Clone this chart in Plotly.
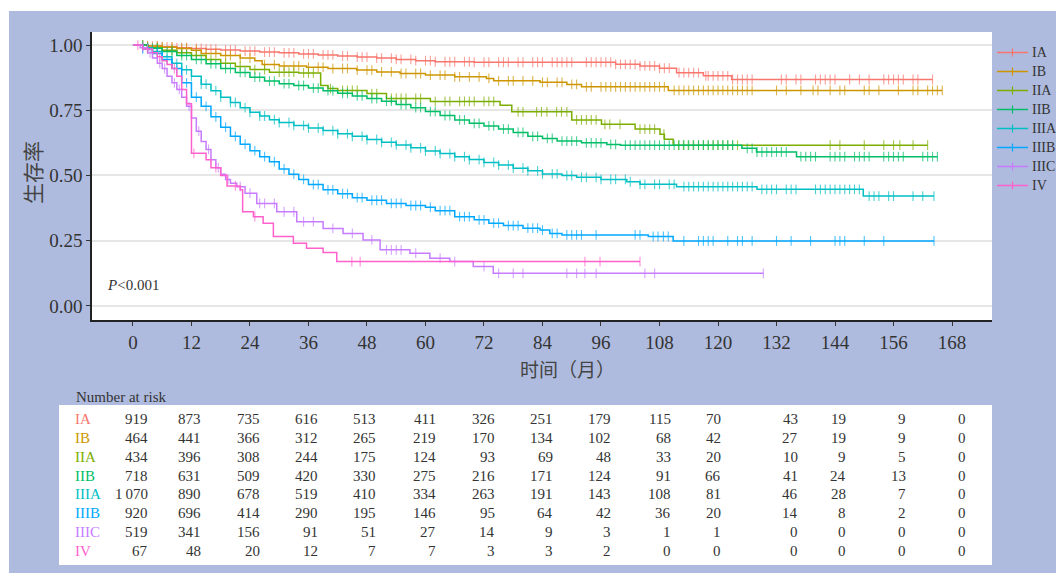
import numpy as np
import plotly.graph_objects as go

# ---------------- data ----------------
months = [0, 12, 24, 36, 48, 60, 72, 84, 96, 108, 120, 132, 144, 156, 168]
stages = ["IA", "IB", "IIA", "IIB", "IIIA", "IIIB", "IIIC", "IV"]
colors = ["#F8766D", "#CD9600", "#7CAE00", "#00BE67", "#00BFC4", "#00A9FF", "#C77CFF", "#FF61CC"]

# step times (months) and survival after each step; last follow-up time
t_IA = [0, 3, 6, 9, 12, 15, 18, 22, 26, 30, 34, 38, 42, 46, 50, 54, 58, 62, 70, 99, 104, 108, 111.5, 117, 122.8]
s_IA = [1.0, 0.996, 0.993, 0.990, 0.987, 0.984, 0.981, 0.977, 0.973, 0.970, 0.966, 0.962, 0.958, 0.954, 0.950, 0.945, 0.940, 0.936, 0.934, 0.926, 0.920, 0.911, 0.894, 0.882, 0.868]
end_IA = 164
c_IA = [2, 3, 4, 5, 6, 7, 8, 9, 10, 11, 13, 14, 15, 16, 17, 19, 20, 21, 23, 24, 25, 27, 28, 29, 31, 32, 33, 35, 36, 37,
        39, 40, 41, 43, 44, 46, 47, 48, 50, 51, 53, 54, 55, 57, 58, 60, 61, 62, 64, 65, 66, 68, 69, 70, 72, 73, 75, 76,
        77, 79, 80, 82, 83, 84, 86, 87, 88, 89, 90, 93, 94, 95, 96, 97, 98, 99, 100, 101, 102, 103, 104, 105, 106, 107,
        108, 109, 110, 112, 113, 114, 115, 116, 117.5, 118, 119, 120, 121, 122, 123, 124, 125, 126, 127, 133, 134, 136,
        137, 140, 141, 142, 143, 144, 147, 149, 151, 154, 155, 156, 157, 158, 160, 161, 164]

t_IB = [0, 3, 6, 9, 12, 14, 18, 22, 25, 26.5, 30, 35.6, 40, 45.9, 50, 54.8, 60, 66, 72.5, 74, 83.5, 89, 92, 109.8]
s_IB = [1.0, 0.996, 0.992, 0.987, 0.980, 0.968, 0.960, 0.950, 0.940, 0.925, 0.920, 0.915, 0.910, 0.904, 0.897, 0.891, 0.885, 0.878, 0.872, 0.863, 0.857, 0.849, 0.840, 0.826]
end_IB = 166
c_IB = [2, 3, 5, 6, 8, 10, 11, 13, 15, 17, 19, 20, 22, 24, 27, 29, 31, 33, 34, 36, 38, 39, 41, 43, 44, 46, 48, 49, 51,
        53, 55, 56, 58, 59, 61, 63, 64, 66, 67, 69, 71, 73, 75, 77, 78, 80, 82, 84, 85, 87, 88, 90, 91, 93, 94, 96, 97,
        98, 99, 100, 101, 102, 103, 104, 105, 106, 107, 108, 109, 111, 112, 113, 114, 115, 116, 117, 118, 119, 120, 121,
        122, 123, 124, 125, 126, 127, 132, 134, 137, 139.5, 140.5, 143, 145, 146, 150, 151, 153, 157, 160, 161, 163,
        164, 165, 166]

t_IIA = [0, 3, 6, 9, 12, 15, 18, 21, 24, 28, 34, 38.5, 40, 42, 48, 52, 61, 75.3, 77.7, 90, 96.1, 103, 108.1, 109, 110.8]
s_IIA = [1.0, 0.990, 0.980, 0.970, 0.960, 0.945, 0.930, 0.918, 0.906, 0.896, 0.893, 0.845, 0.833, 0.826, 0.814, 0.795, 0.784, 0.769, 0.744, 0.713, 0.696, 0.678, 0.658, 0.639, 0.616]
end_IIA = 163
c_IIA = [3, 5, 8, 10, 13, 16, 19, 22, 25, 27, 30, 31, 32, 33, 35, 36, 37, 40.5, 43, 44, 45, 46, 49, 50, 53, 54, 55, 56,
         58, 59, 62, 64, 65, 67, 68, 69, 70, 72, 73, 74, 79, 80, 82.8, 83.8, 84.9, 86.9, 87.9, 89, 91, 92, 93, 94, 95,
         96.8, 97.8, 99.9, 104, 105, 106, 107, 108.9, 111.9, 112.9, 113.9, 114.9, 116, 117, 118, 119, 120, 121, 122, 123,
         124, 143, 145, 150, 154, 156, 157.3, 160, 163]

t_IIB = [0, 3, 6, 9, 12, 15, 18, 21, 24, 27, 30, 33, 36, 39, 42, 45, 48, 51, 54, 57, 60, 63, 66, 69, 72, 75, 78, 81, 84, 87, 92, 97.2, 100, 124.9, 127.9, 136.1]
s_IIB = [1.0, 0.988, 0.975, 0.960, 0.945, 0.928, 0.910, 0.895, 0.877, 0.862, 0.852, 0.845, 0.835, 0.825, 0.815, 0.805, 0.795, 0.785, 0.772, 0.760, 0.745, 0.730, 0.713, 0.700, 0.690, 0.678, 0.665, 0.650, 0.642, 0.632, 0.625, 0.619, 0.616, 0.604, 0.590, 0.572]
end_IIB = 165
c_IIB = [2, 4, 5, 7, 8, 10, 11, 13, 14, 16, 17, 19, 20, 22, 23, 25, 26, 28, 29, 31, 32, 34, 35, 37, 38, 40, 41, 43, 44,
         46, 47, 49, 50, 52, 53, 55, 56, 58, 59, 61, 62, 64, 65, 67, 68, 70, 71, 73, 74, 76, 77, 79, 80, 82, 83, 85, 86,
         88, 89, 90, 91, 93, 94, 95, 96, 98, 99, 101, 102, 103, 104, 105, 106, 107, 108, 109, 110, 111, 112, 113, 114,
         115, 116, 117, 118, 119, 120, 121, 122, 123, 126, 127, 128, 129, 130, 131, 132, 133, 134, 137, 138, 139, 140,
         143, 144, 145, 146, 148, 149, 150, 151, 154, 155, 156, 157, 158, 162, 163, 164, 165]

t_IIIA = [0, 2, 4, 6, 8, 10, 12, 14, 16, 18, 20, 22, 24, 26, 28, 30, 33, 36, 39, 42, 45, 48, 51, 54, 57, 60, 63, 66, 69, 72, 75, 78, 81, 84, 88, 91, 96, 101.3, 104, 111.5, 128, 149.8]
s_IIIA = [1.0, 0.990, 0.975, 0.955, 0.930, 0.905, 0.880, 0.850, 0.825, 0.800, 0.780, 0.760, 0.742, 0.728, 0.714, 0.703, 0.692, 0.682, 0.672, 0.660, 0.650, 0.638, 0.627, 0.617, 0.606, 0.594, 0.584, 0.572, 0.561, 0.550, 0.540, 0.528, 0.518, 0.506, 0.500, 0.493, 0.485, 0.476, 0.466, 0.457, 0.447, 0.421]
end_IIIA = 164.3
c_IIIA = [2, 3, 5, 6, 8, 9, 11, 12, 14, 15, 17, 18, 20, 21, 23, 24, 26, 27, 29, 30, 32, 33, 35, 36, 38, 39, 41, 42, 44,
          45, 47, 48, 50, 51, 53, 54, 56, 57, 59, 60, 62, 63, 65, 66, 68, 69, 71, 72, 74, 75, 77, 78, 80, 81, 83, 84,
          86, 87, 89, 90, 92, 93, 95, 96, 98, 99, 101, 102, 104, 105, 107, 108, 110, 111, 113, 114, 115, 116, 117, 118,
          119, 120, 121, 122, 123, 124, 125, 126, 127, 129, 130, 131, 132, 134, 135, 136, 140, 141, 142, 143, 144, 145,
          146, 147, 148, 149, 151, 152, 153, 155, 156, 160, 162, 164.3]

t_IIIB = [0, 2, 4, 6, 8, 10, 12, 14, 16, 18, 20, 22, 24, 26, 28, 30, 32, 34, 36, 39, 42, 45, 48, 52, 56, 60, 62, 66, 70, 73, 76, 80, 83.5, 85.5, 88, 105.7, 110.8]
s_IIIB = [1.0, 0.985, 0.968, 0.945, 0.910, 0.855, 0.800, 0.765, 0.725, 0.685, 0.650, 0.620, 0.595, 0.572, 0.553, 0.525, 0.505, 0.485, 0.465, 0.445, 0.430, 0.415, 0.405, 0.393, 0.385, 0.378, 0.365, 0.342, 0.330, 0.317, 0.308, 0.298, 0.291, 0.278, 0.272, 0.266, 0.249]
end_IIIB = 164.3
c_IIIB = [2, 3, 5, 7, 9, 11, 13, 15, 17, 19, 21, 23, 25, 27, 29, 31, 33, 35, 37, 38, 40, 41, 43, 44, 46, 47, 49, 50, 51,
          53, 54, 55, 57, 58, 59, 61, 63, 64, 65, 67, 68, 69, 71, 72, 74, 75, 77, 78, 79, 81, 82, 83, 84, 86, 87, 89, 90,
          91, 92, 95, 103, 104, 106.7, 107.7, 108.8, 109.8, 113, 116, 117, 118, 119, 122, 124, 125, 127, 132, 135, 139,
          144, 145, 146, 150, 154, 164.3]

t_IIIC = [0, 1.5, 3, 4, 5, 6, 7, 8, 9, 10, 11, 12, 13, 14, 15, 16, 17, 18, 19, 20, 21.3, 23, 25.4, 29.5, 33.6, 39, 43.1, 47.2, 50.7, 56.8, 60.9, 65, 69.8, 73.9]
s_IIIC = [1.0, 0.990, 0.970, 0.950, 0.930, 0.910, 0.880, 0.855, 0.830, 0.800, 0.765, 0.720, 0.670, 0.630, 0.600, 0.560, 0.530, 0.505, 0.485, 0.470, 0.457, 0.432, 0.393, 0.361, 0.323, 0.297, 0.278, 0.253, 0.215, 0.202, 0.183, 0.170, 0.151, 0.125]
end_IIIC = 129.3
c_IIIC = [2, 3.5, 5.5, 6.5, 8.5, 9.5, 11.5, 13.5, 15.5, 17.5, 19.5, 22, 24, 26, 27, 29, 31, 33, 35, 37, 41, 45, 49, 52,
          53, 54, 55, 58, 63, 66, 72, 75, 78, 80, 89, 91, 92.7, 95, 105, 107, 129.3]

t_IV = [0, 2, 4, 5, 6, 7, 8, 9, 10, 11, 12, 15, 16, 18, 19.3, 22, 22.5, 24.7, 26.7, 28.8, 32.9, 35.6, 39, 41.8]
s_IV = [1.0, 0.985, 0.970, 0.955, 0.940, 0.925, 0.910, 0.880, 0.830, 0.775, 0.585, 0.560, 0.530, 0.500, 0.460, 0.445, 0.361, 0.342, 0.317, 0.266, 0.240, 0.221, 0.205, 0.170]
end_IV = 104
c_IV = [1, 3, 5.5, 8.5, 12.5, 17, 21, 25, 44.9, 46.6, 92.7, 95.8, 104]

risk_IA = [919, 873, 735, 616, 513, 411, 326, 251, 179, 115, 70, 43, 19, 9, 0]
risk_IB = [464, 441, 366, 312, 265, 219, 170, 134, 102, 68, 42, 27, 19, 9, 0]
risk_IIA = [434, 396, 308, 244, 175, 124, 93, 69, 48, 33, 20, 10, 9, 5, 0]
risk_IIB = [718, 631, 509, 420, 330, 275, 216, 171, 124, 91, 66, 41, 24, 13, 0]
risk_IIIA = [1070, 890, 678, 519, 410, 334, 263, 191, 143, 108, 81, 46, 28, 7, 0]
risk_IIIB = [920, 696, 414, 290, 195, 146, 95, 64, 42, 36, 20, 14, 8, 2, 0]
risk_IIIC = [519, 341, 156, 91, 51, 27, 14, 9, 3, 1, 1, 0, 0, 0, 0]
risk_IV = [67, 48, 20, 12, 7, 7, 3, 3, 2, 0, 0, 0, 0, 0, 0]

p_text = "<i>P</i>&lt;0.001"

curves = {
    "IA": (t_IA, s_IA, end_IA, c_IA, risk_IA),
    "IB": (t_IB, s_IB, end_IB, c_IB, risk_IB),
    "IIA": (t_IIA, s_IIA, end_IIA, c_IIA, risk_IIA),
    "IIB": (t_IIB, s_IIB, end_IIB, c_IIB, risk_IIB),
    "IIIA": (t_IIIA, s_IIIA, end_IIIA, c_IIIA, risk_IIIA),
    "IIIB": (t_IIIB, s_IIIB, end_IIIB, c_IIIB, risk_IIIB),
    "IIIC": (t_IIIC, s_IIIC, end_IIIC, c_IIIC, risk_IIIC),
    "IV": (t_IV, s_IV, end_IV, c_IV, risk_IV),
}

# ---------------- layout helpers ----------------
# the page body has an 8px margin: the figure sits 8px in from the window corner,
# and it is kept short enough that no scrollbar appears.
OFF = 8
W, H = 1064 - OFF, 581 - 2 * OFF
ML, MT = 92 - OFF, 32 - OFF
PW, PH = 900, 288
MR, MB = W - ML - PW, H - MT - PH


def px_x(px):
    """window pixel x -> paper x"""
    return (px - OFF - ML) / PW


def px_y(py):
    """window pixel y -> paper y"""
    return (MT + PH - (py - OFF)) / PH


SERIF = "Liberation Serif"
CJK = "Noto Sans CJK SC"
TXT = "#333333"
BLUE_BG = "#AEBBDE"

fig = go.Figure()

for name, col in zip(stages, colors):
    t, s, end, cens, _ = curves[name]
    xs = list(t) + [end]
    ys = list(s) + [s[-1]]
    fig.add_trace(go.Scatter(x=xs, y=ys, mode="lines", line=dict(color=col, width=1.5, shape="hv"),
                             showlegend=False, hoverinfo="skip"))
    ta = np.array(t, dtype=float)
    ca = np.array(cens, dtype=float)
    idx = np.searchsorted(ta, ca, side="right") - 1
    cy = np.array(s)[idx]
    fig.add_trace(go.Scatter(x=ca, y=cy, mode="markers",
                             marker=dict(symbol="line-ns", size=7, opacity=0.7,
                                         line=dict(color=col, width=1.1)),
                             showlegend=False, hoverinfo="skip"))

shapes = [
    dict(type="rect", xref="paper", yref="paper", x0=px_x(9), x1=px_x(1070), y0=px_y(590), y1=px_y(11),
         fillcolor=BLUE_BG, line=dict(width=0), layer="below"),
    dict(type="rect", xref="paper", yref="paper", x0=0, x1=1, y0=0, y1=1,
         fillcolor="white", line=dict(width=0), layer="below"),
    dict(type="rect", xref="paper", yref="paper", x0=px_x(59), x1=px_x(992), y0=px_y(565), y1=px_y(405),
         fillcolor="white", line=dict(width=0), layer="below"),
]

annotations = [
    dict(text="生存率", xref="paper", yref="paper", x=px_x(32), y=px_y(173), textangle=-90,
         showarrow=False, font=dict(family=CJK, size=21, color="#444444"), xanchor="center", yanchor="middle"),
    dict(text="时间（月）", xref="paper", yref="paper", x=px_x(567), y=px_y(368),
         showarrow=False, font=dict(family=CJK, size=19, color="#444444"), xanchor="center", yanchor="middle"),
    dict(text=p_text, xref="paper", yref="paper", x=px_x(105), y=px_y(285), showarrow=False,
         font=dict(family=SERIF, size=15, color=TXT), xanchor="left", yanchor="middle"),
    dict(text="Number at risk", xref="paper", yref="paper", x=px_x(74), y=px_y(397), showarrow=False,
         font=dict(family=SERIF, size=15, color=TXT), xanchor="left", yanchor="middle"),
]

# legend drawn by hand (line sample + censor tick + label)
leg_py = [52.5, 71.5, 90.5, 109.5, 128.5, 147.5, 166.5, 185.5]
for name, col, py in zip(stages, colors, leg_py):
    shapes.append(dict(type="line", xref="paper", yref="paper", x0=px_x(997), x1=px_x(1028),
                       y0=px_y(py), y1=px_y(py), line=dict(color=col, width=1.5)))
    shapes.append(dict(type="line", xref="paper", yref="paper", x0=px_x(1012.5), x1=px_x(1012.5),
                       y0=px_y(py - 4), y1=px_y(py + 4), line=dict(color=col, width=1.2)))
    annotations.append(dict(text=name, xref="paper", yref="paper", x=px_x(1030), y=px_y(py), showarrow=False,
                            font=dict(family=SERIF, size=14, color=TXT), xanchor="left", yanchor="middle"))

row_py = [418.5, 437.5, 456.5, 475.5, 494.3, 513.2, 531.8, 550.6]
col_shift = [17, 11.5, 12, 11.5, 11, 12.5, 13, 12.5, 12, 13.5, 5, 23.5, 13, 14.5, 16]


def fmt(n):
    return f"{n // 1000}\u2009{n % 1000:03d}" if n >= 1000 else str(n)


for name, col, py in zip(stages, colors, row_py):
    risk = curves[name][4]
    annotations.append(dict(text=name, xref="paper", yref="paper", x=px_x(73), y=px_y(py), showarrow=False,
                            font=dict(family=SERIF, size=15, color=col), xanchor="left", yanchor="middle"))
    for m, v, sh in zip(months, risk, col_shift):
        annotations.append(dict(text=fmt(v), xref="x", yref="paper", x=m, y=px_y(py), xshift=sh,
                                showarrow=False, font=dict(family=SERIF, size=15, color=TXT),
                                xanchor="right", yanchor="middle"))

fig.update_layout(
    width=W, height=H,
    margin=dict(l=ML, r=MR, t=MT, b=MB, pad=0),
    paper_bgcolor="white", plot_bgcolor="rgba(0,0,0,0)",
    shapes=shapes, annotations=annotations, showlegend=False,
    xaxis=dict(range=[-8.4, 176.2], tickvals=months, ticks="outside", ticklen=4, tickwidth=1.2, tickcolor=TXT,
               showline=True, linecolor="#222222", linewidth=1.5, showgrid=False, zeroline=False,
               tickfont=dict(family=SERIF, size=19, color=TXT)),
    yaxis=dict(range=[-0.054, 1.05], tickvals=[0, 0.25, 0.5, 0.75, 1.0],
               ticktext=["0.00", "0.25", "0.50", "0.75", "1.00"], ticks="outside", ticklen=4, tickwidth=1.2,
               tickcolor=TXT, showline=True, linecolor="#222222", linewidth=1.5, showgrid=True,
               gridcolor="#E6E6E6", gridwidth=1.5, zeroline=False,
               tickfont=dict(family=SERIF, size=19, color=TXT)),
)

fig.write_html("out.html")
